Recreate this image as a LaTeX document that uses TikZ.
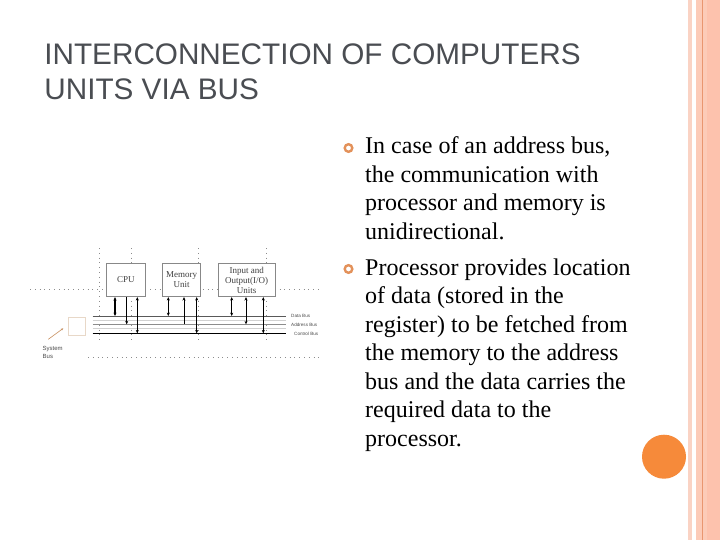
\documentclass[tikz,border=0pt]{standalone}
\usepackage{fontspec}
\setmainfont{Liberation Serif}
\newfontfamily\titlefont{Liberation Sans}
\usetikzlibrary{arrows.meta}
\definecolor{titlegray}{HTML}{4A4D52}
\definecolor{stripepale}{HTML}{FAD3C4}
\definecolor{stripemain}{HTML}{FCCBB8}
\definecolor{stripedeep}{HTML}{FDC2AD}
\definecolor{stripeline}{HTML}{E99670}
\definecolor{dotorange}{HTML}{F68A3A}
\definecolor{bulletorange}{HTML}{E3915A}
\definecolor{boxgray}{HTML}{888888}
\definecolor{sysbeige}{HTML}{E8D8C8}
\definecolor{sysarrow}{HTML}{C89060}
\tikzset{
  bodyline/.style={anchor=base west, inner sep=0pt, font=\fontsize{24}{28.5}\selectfont},
  titleline/.style={anchor=base west, inner sep=0pt, text=titlegray, font=\titlefont\fontsize{29.7}{35.7}\selectfont},
  bulletring/.style={draw=bulletorange, line width=2.4pt},
  unitbox/.style={draw=boxgray, line width=0.8pt, inner sep=0pt, align=center, text=black!75, font=\fontsize{9}{10}\selectfont},
  gridline/.style={draw=black!45, line width=0.7pt, dash pattern=on 0.7pt off 4.1pt},
  buslabel/.style={anchor=west, inner sep=0pt, text=black!70, font=\titlefont\fontsize{4.6}{5}\selectfont},
  bidir/.style={{Stealth[length=3.4pt,width=3pt]}-{Stealth[length=3.4pt,width=3pt]}, line width=0.75pt},
  onedir/.style={-{Stealth[length=3.4pt,width=3pt]}, line width=0.75pt},
}
\begin{document}
\begin{tikzpicture}[x=1pt,y=-1pt]
\useasboundingbox (0,0) rectangle (720,540);
\fill[white] (0,0) rectangle (720,540);
% right side decoration
\fill[stripepale] (687.5,0) rectangle (692.3,540);
\fill[stripemain] (695.7,0) rectangle (720,540);
\fill[stripedeep] (707,0) rectangle (720,540);
\draw[stripeline, line width=1pt] (702.5,0) -- (702.5,540);
\fill[dotorange] (664,456.7) circle (22);
% title
\node[titleline] (t1) at (44.2,64.3) {INTERCONNECTION OF COMPUTERS};
\node[titleline] (t2) at (44.2,100) {UNITS VIA BUS};
% bullets
\draw[bulletring] (348.5,148) circle (3.8);
\draw[bulletring] (348.5,269) circle (3.8);
% body text
\node[bodyline] (a1) at (365,154) {In case of an address bus,};
\node[bodyline] (a2) at (365,182.5) {the communication with};
\node[bodyline] (a3) at (365,211) {processor and memory is};
\node[bodyline] (a4) at (365,239.5) {unidirectional.};
\node[bodyline] (b1) at (365,275) {Processor provides location};
\node[bodyline] (b2) at (365,303.5) {of data (stored in the};
\node[bodyline] (b3) at (365,332) {register) to be fetched from};
\node[bodyline] (b4) at (365,360.5) {the memory to the address};
\node[bodyline] (b5) at (365,389) {bus and the data carries the};
\node[bodyline] (b6) at (365,417.5) {required data to the};
\node[bodyline] (b7) at (365,446) {processor.};
% diagram grid (dotted)
\draw[gridline] (30,289) -- (322,289);
\draw[gridline] (88,357) -- (322,357);
\foreach \gx in {99,131,198.3,266}{\draw[gridline] (\gx,248) -- (\gx,341);}
% units
\node[unitbox, fill=white, minimum width=38.3pt, minimum height=33.4pt] (cpu) at (125.85,280) {CPU};
\node[unitbox, fill=white, minimum width=38.4pt, minimum height=33.4pt] (mem) at (181.5,280) {Memory\\Unit};
\node[unitbox, fill=white, minimum width=56.7pt, minimum height=33.4pt] (io) at (246.65,280) {Input and\\Output(I/O)\\Units};
% buses
\coordinate (dbL) at (92.7,316);   \coordinate (dbR) at (286,316);
\coordinate (abL) at (92.7,324.3); \coordinate (abR) at (286,324.3);
\coordinate (cbL) at (92.7,333.3); \coordinate (cbR) at (286,333.3);
\draw[black!18, line width=0.6pt] (92.7,320) -- (286,320);
\draw[black!18, line width=0.6pt] (92.7,328.5) -- (286,328.5);
\draw[black!65, line width=0.9pt] (dbL) -- (dbR);
\draw[black!45, line width=0.9pt] (abL) -- (abR);
\draw[black, line width=1.1pt] (cbL) -- (cbR);
\node[buslabel] (dlab) at (291,316) {Data Bus};
\node[buslabel] (alab) at (291,324.5) {Address Bus};
\node[buslabel] (clab) at (294,333.5) {Control Bus};
% connectors
\draw[bidir, line width=1.2pt] (115,0 |- cpu.south) -- (115,0 |- dbL);
\draw[onedir] (126.7,0 |- cpu.south) -- (126.7,0 |- abL);
\draw[bidir] (137.3,0 |- cpu.south) -- (137.3,0 |- cbL);
\draw[bidir] (168.3,0 |- mem.south) -- (168.3,0 |- dbL);
\draw[onedir] (184,0 |- abL) -- (184,0 |- mem.south);
\draw[bidir] (196.7,0 |- mem.south) -- (196.7,0 |- cbL);
\draw[bidir] (231.7,0 |- io.south) -- (231.7,0 |- dbL);
\draw[bidir] (246,0 |- io.south) -- (246,0 |- abL);
\draw[bidir] (263.3,0 |- io.south) -- (263.3,0 |- cbL);
% system bus marker
\node[draw=sysbeige, line width=0.6pt, minimum width=16.7pt, minimum height=18.4pt, inner sep=0pt] (sys) at (76.65,326.5) {};
\coordinate (sysarrowstart) at (48.3,339.3);
\draw[sysarrow, line width=0.6pt, -{Stealth[length=2.5pt,width=2pt]}] (sysarrowstart) -- (63.3,328.3);
\node[anchor=west, inner sep=0pt, text=black!70, font=\titlefont\fontsize{6}{7}\selectfont] (syslab1) at (42.5,349.5) {System};
\node[anchor=west, inner sep=0pt, text=black!70, font=\titlefont\fontsize{6}{7}\selectfont] (syslab2) at (42.5,356.8) {Bus};
\end{tikzpicture}
\end{document}
